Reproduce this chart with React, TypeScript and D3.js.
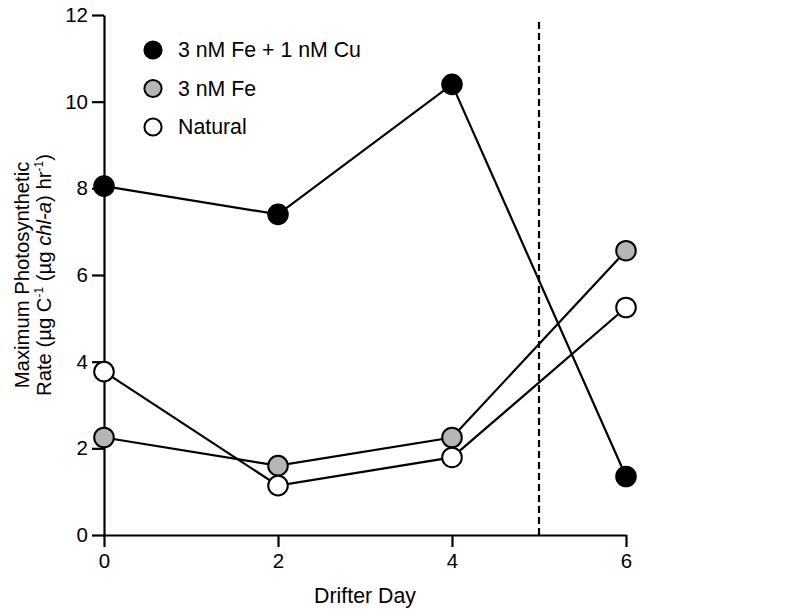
import React, { useEffect, useRef } from "react";
import * as d3 from "d3";

const days = [0, 2, 4, 6];
const feCu = [8.05, 7.4, 10.4, 1.35];
const fe = [2.25, 1.6, 2.25, 6.56];
const natural = [3.77, 1.14, 1.79, 5.25];
const seriesNames = ["3 nM Fe + 1 nM Cu", "3 nM Fe", "Natural"];
const seriesFills = ["#000000", "#b5b5b5", "#ffffff"];
const xTicks = [0, 2, 4, 6];
const yTicks = [0, 2, 4, 6, 8, 10, 12];
const markerDay = 5;

const WIDTH = 793;
const HEIGHT = 612;
const FONT = "'Liberation Sans', Arial, sans-serif";

const App = () => {
  const svgRef = useRef<SVGSVGElement | null>(null);

  useEffect(() => {
    const svg = d3.select(svgRef.current);
    svg.selectAll("*").remove();

    const margin = { top: 15, right: 167, bottom: 77, left: 104 };

    const x = d3
      .scaleLinear()
      .domain([0, 6])
      .range([margin.left, WIDTH - margin.right]);
    const y = d3
      .scaleLinear()
      .domain([0, 12])
      .range([HEIGHT - margin.bottom, margin.top]);

    // axes
    const xAxis = svg
      .append("g")
      .attr("transform", `translate(0,${y(0)})`)
      .call(
        d3.axisBottom(x).tickValues(xTicks).tickFormat(d3.format("d")).tickSize(12).tickPadding(6).tickSizeOuter(0)
      );
    const yAxis = svg
      .append("g")
      .attr("transform", `translate(${x(0)},0)`)
      .call(
        d3.axisLeft(y).tickValues(yTicks).tickFormat(d3.format("d")).tickSize(12).tickPadding(4).tickSizeOuter(0)
      );

    [xAxis, yAxis].forEach((g) => {
      g.attr("font-size", null).attr("font-family", null);
      g.select(".domain").attr("stroke", "#000").attr("stroke-width", 2.2);
      g.selectAll(".tick line").attr("stroke", "#000").attr("stroke-width", 2.2);
      g.selectAll(".tick text")
        .attr("fill", "#000")
        .style("font-family", FONT)
        .style("font-size", "20.5px");
    });

    // dashed marker at day 5
    svg
      .append("line")
      .attr("x1", x(markerDay))
      .attr("x2", x(markerDay))
      .attr("y1", y(0))
      .attr("y2", y(11.93))
      .attr("stroke", "#000")
      .attr("stroke-width", 2.2)
      .attr("stroke-dasharray", "7,4");

    const allSeries = [feCu, fe, natural];
    const line = d3
      .line<number>()
      .x((_, i) => x(days[i]))
      .y((d) => y(d));

    allSeries.forEach((vals) => {
      svg
        .append("path")
        .attr("d", line(vals))
        .attr("fill", "none")
        .attr("stroke", "#000")
        .attr("stroke-width", 2.2);
    });

    allSeries.forEach((vals, s) => {
      svg
        .append("g")
        .selectAll("circle")
        .data(vals)
        .join("circle")
        .attr("cx", (_, i) => x(days[i]))
        .attr("cy", (d) => y(d))
        .attr("r", 9.8)
        .attr("fill", seriesFills[s])
        .attr("stroke", "#000")
        .attr("stroke-width", 2);
    });

    // legend
    const legend = svg.append("g").attr("transform", "translate(153,50)");
    seriesNames.forEach((name, i) => {
      const row = legend.append("g").attr("transform", `translate(0,${i * 38.5})`);
      row
        .append("circle")
        .attr("r", 8.6)
        .attr("fill", seriesFills[i])
        .attr("stroke", "#000")
        .attr("stroke-width", 2);
      row
        .append("text")
        .attr("x", 25)
        .attr("dy", "0.35em")
        .style("font-family", FONT)
        .style("font-size", "21.3px")
        .text(name);
    });

    // axis titles
    svg
      .append("text")
      .attr("x", (x(0) + x(6)) / 2)
      .attr("y", 603)
      .attr("text-anchor", "middle")
      .style("font-family", FONT)
      .style("font-size", "21.3px")
      .text("Drifter Day");

    const yTitle = svg
      .append("text")
      .attr("transform", `translate(0,${(y(0) + y(12)) / 2}) rotate(-90)`)
      .attr("text-anchor", "middle")
      .style("font-family", FONT)
      .style("font-size", "20.3px");
    yTitle.append("tspan").attr("x", 0).attr("y", 29).text("Maximum Photosynthetic");
    const l2 = yTitle.append("tspan").attr("x", 0).attr("y", 51);
    l2.append("tspan").text("Rate (µg C");
    l2.append("tspan").attr("dy", -8).style("font-size", "12px").text("-1");
    l2.append("tspan").attr("dy", 8).text(" (µg ");
    l2.append("tspan").style("font-style", "italic").text("chl-a");
    l2.append("tspan").text(") hr");
    l2.append("tspan").attr("dy", -8).style("font-size", "12px").text("-1");
    l2.append("tspan").attr("dy", 8).text(")");
  }, []);

  return (
    <svg
      ref={svgRef}
      width={WIDTH}
      height={HEIGHT}
      style={{ position: "absolute", left: 0, top: 0, background: "#fff" }}
    />
  );
};

export default App;
